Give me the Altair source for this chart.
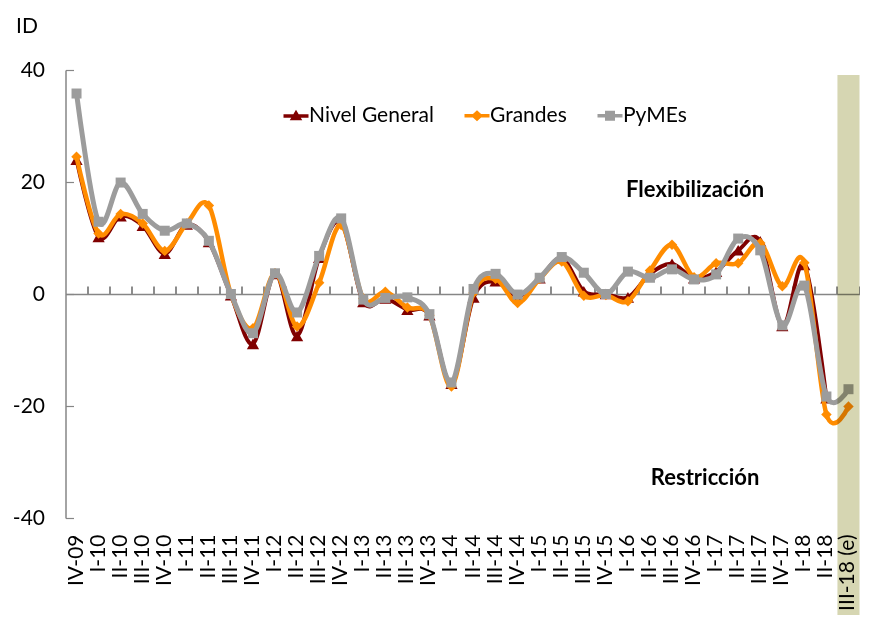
import altair as alt
import pandas as pd

# ---------------- data ----------------
periods = ["IV-09", "I-10", "II-10", "III-10", "IV-10", "I-11", "II-11", "III-11",
           "IV-11", "I-12", "II-12", "III-12", "IV-12", "I-13", "II-13", "III-13",
           "IV-13", "I-14", "II-14", "III-14", "IV-14", "I-15", "II-15", "III-15",
           "IV-15", "I-16", "II-16", "III-16", "IV-16", "I-17", "II-17", "III-17",
           "IV-17", "I-18", "II-18", "III-18 (e)"]

nivel_general = [24.0, 10.2, 13.9, 12.2, 7.2, 12.4, 9.3, -0.2,
                 -8.9, 3.6, -7.5, 6.5, 12.8, -1.4, -0.8, -2.8,
                 -3.8, -16.0, -0.6, 2.3, -0.4, 2.8, 6.4, 0.5,
                 0.0, -0.6, 3.6, 5.4, 2.8, 4.0, 7.8, 9.4,
                 -5.7, 5.2, -18.6, None]

grandes = [24.5, 10.8, 14.3, 12.6, 7.7, 12.6, 15.8, 0.0,
           -6.1, 3.7, -5.8, 2.0, 12.3, -0.8, 0.4, -2.4,
           -3.8, -16.5, 0.2, 2.7, -1.6, 2.7, 5.8, -0.3,
           -0.2, -1.3, 4.2, 8.8, 3.0, 5.5, 5.5, 9.1,
           1.4, 5.6, -21.5, -20.1]

pymes = [35.8, 12.9, 19.9, 14.3, 11.3, 12.6, 9.5, 0.0,
         -7.0, 3.7, -3.3, 6.8, 13.5, -1.0, -0.7, -0.6,
         -3.6, -15.8, 0.9, 3.6, -0.1, 2.9, 6.6, 3.8,
         0.0, 4.0, 2.9, 4.4, 2.6, 3.5, 9.9, 7.8,
         -5.6, 1.5, -18.3, -17.0]

series_names = ["Nivel General", "Grandes", "PyMEs"]
series_colors = ["#800000", "#FF8C00", "#9C9C9C"]
series_shapes = ["triangle-up", "diamond", "square"]
y_ticks = [-40, -20, 0, 20, 40]
estimated_period = ["III-18 (e)"]

ann_text = ["Flexibilización", "Restricción"]
ann_period = ["IV-16", "IV-16"]
ann_value = [18.6, -32.9]
ann_dx = [1, 11]

# ---------------- build table ----------------
rows = []
for name, vals in zip(series_names, [nivel_general, grandes, pymes]):
    for p, v in zip(periods, vals):
        if v is not None:
            rows.append({"periodo": p, "serie": name, "valor": v})
df = pd.DataFrame(rows)
band_df = pd.DataFrame({"periodo": estimated_period})

W, H = 794, 448
FONT = "Lato"
FS = 21

x_scale = alt.Scale(type="band", domain=periods, paddingInner=0, paddingOuter=0)
y_scale = alt.Scale(domain=[-40, 40], nice=False, zero=False)

axis_x_labels = alt.Axis(orient="bottom", domain=False, ticks=False, grid=False,
                         labelAngle=270, labelAlign="right", labelBaseline="middle",
                         labelPadding=16, labelFont=FONT, labelFontSize=FS,
                         labelColor="black", title=None, labelOverlap=False)
axis_x_zero = alt.Axis(orient="top", offset=-H / 2, labels=False, grid=False,
                       domain=True, domainColor="#868686", domainWidth=1.5,
                       ticks=True, tickSize=8, tickColor="#404040", tickWidth=1.2,
                       bandPosition=1, title=None)
axis_y_labels = alt.Axis(orient="left", values=y_ticks, domain=False, ticks=False,
                         grid=False, labelPadding=21, labelFont=FONT,
                         labelFontSize=FS, labelColor="black",
                         labelExpr="'' + datum.value",
                         title="ID", titleAngle=0, titleAlign="left",
                         titleBaseline="alphabetic", titleX=-50, titleY=-38,
                         titleFont=FONT, titleFontSize=FS, titleFontWeight="normal",
                         titleColor="black")
axis_y_line = alt.Axis(orient="right", offset=-W, values=y_ticks, labels=False,
                       grid=False, domain=True, domainColor="#868686",
                       domainWidth=1.5, ticks=True, tickSize=8,
                       tickColor="#868686", tickWidth=1.2, title=None)


def xenc(axis=None):
    return alt.X("periodo:O", scale=x_scale, axis=axis, bandPosition=0.5)


def yenc(axis=None):
    return alt.Y("valor:Q", scale=y_scale, axis=axis)


line_widths = [4, 4.5, 5]
point_sizes = [150, 110, 100]
axes_for = [(axis_x_labels, axis_y_labels), (axis_x_zero, axis_y_line), (None, None)]

layers = []
for name, col, shp, lw, ps, (ax_x, ax_y) in zip(series_names, series_colors, series_shapes,
                                                line_widths, point_sizes, axes_for):
    base = alt.Chart().transform_filter(alt.datum.serie == name)
    layers.append(base.mark_line(interpolate="cardinal", color=col, strokeWidth=lw,
                                 strokeJoin="round", strokeCap="round")
                  .encode(x=xenc(ax_x), y=yenc(ax_y)))
    layers.append(base.mark_point(shape=shp, filled=True, size=ps, color=col, opacity=1)
                  .encode(x=xenc(), y=yenc()))

# legend (line + marker symbols)
legend_paths = [
    "M-2.5,-0.3L2.5,-0.3L2.5,0.4L-2.5,0.4Z M0,-1.2L1.25,0.9L-1.25,0.9Z",
    "M-2.5,-0.35L2.5,-0.35L2.5,0.35L-2.5,0.35Z M0,-1.1L1.2,0L0,1.1L-1.2,0Z",
    "M-2.5,-0.35L2.5,-0.35L2.5,0.35L-2.5,0.35Z M-1,-1L1,-1L1,1L-1,1Z",
]
legend_def = alt.Legend(orient="none", legendX=220, legendY=35, direction="horizontal",
                        title=None, labelFont=FONT, labelFontSize=21,
                        labelColor="black", symbolSize=100, symbolOpacity=1,
                        symbolStrokeWidth=0, labelOffset=2.5, columnPadding=30,
                        padding=0)
legend_layer = alt.Chart().mark_point(filled=True, opacity=0, size=100).encode(
    x=xenc(), y=yenc(),
    color=alt.Color("serie:N", scale=alt.Scale(domain=series_names, range=series_colors),
                    legend=legend_def),
    shape=alt.Shape("serie:N", scale=alt.Scale(domain=series_names, range=legend_paths),
                    legend=legend_def),
)
layers.append(legend_layer)

band = alt.Chart(band_df).mark_rect(color="#D6D6B2", blend="multiply").encode(
    x=alt.X("periodo:O", scale=x_scale, axis=None),
    y=alt.value(5), y2=alt.value(H + 100),
)
layers.append(band)

for t, p, v, d in zip(ann_text, ann_period, ann_value, ann_dx):
    ann_df = pd.DataFrame({"texto": [t], "periodo": [p], "valor": [v]})
    layers.append(
        alt.Chart(ann_df).mark_text(font=FONT, fontSize=22, fontWeight="bold",
                                    color="black", baseline="middle", dx=d)
        .encode(x=xenc(), y=yenc(), text="texto:N")
    )

chart = (
    alt.layer(*layers, data=df)
    .properties(width=W, height=H,
                padding={"left": 57.5, "top": 62, "right": 0, "bottom": 97},
                autosize=alt.AutoSizeParams(type="none"))
    .resolve_axis(x="independent", y="independent")
    .configure_view(stroke=None)
)

chart.save("out.html", embed_options={"renderer": "svg", "actions": False})
